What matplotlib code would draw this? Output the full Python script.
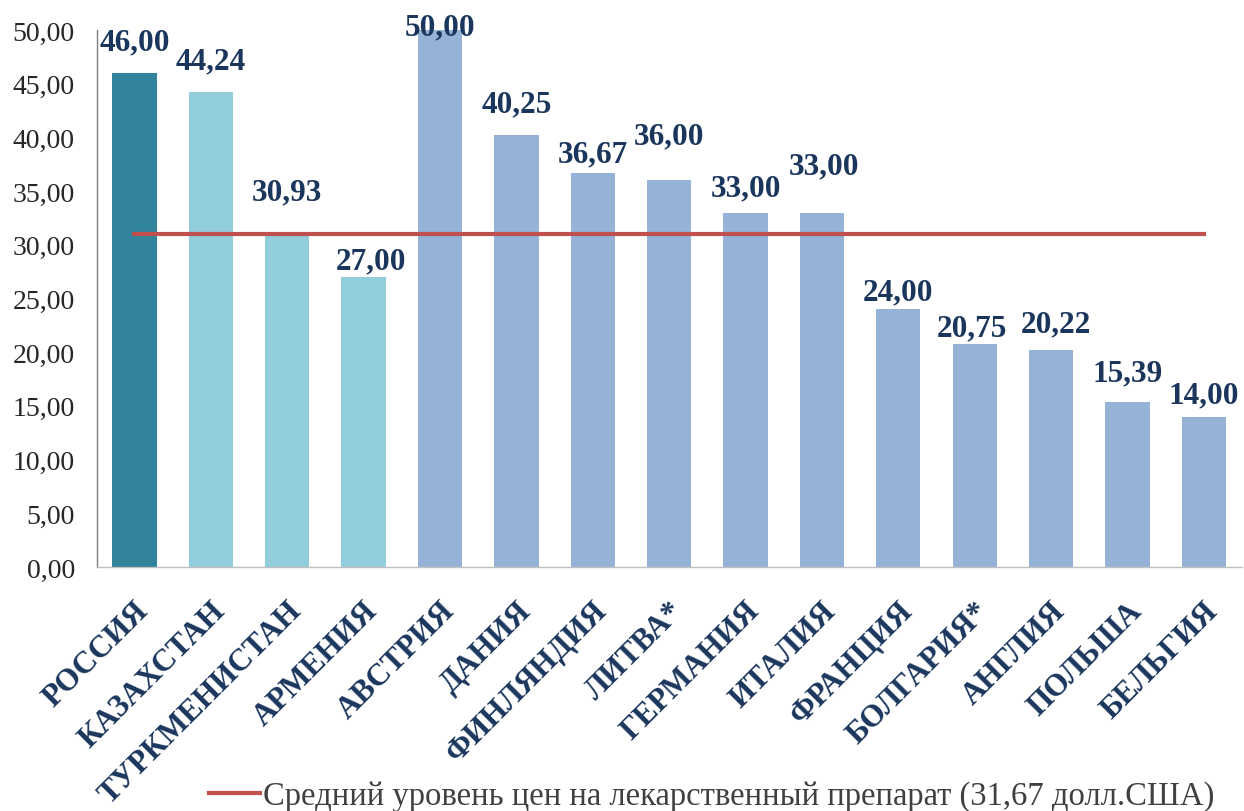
import matplotlib
matplotlib.use("Agg")
import matplotlib.pyplot as plt
import matplotlib.transforms as mtransforms
from matplotlib.lines import Line2D

# ---- data ----
countries = ["РОССИЯ", "КАЗАХСТАН", "ТУРКМЕНИСТАН", "АРМЕНИЯ", "АВСТРИЯ",
             "ДАНИЯ", "ФИНЛЯНДИЯ", "ЛИТВА*", "ГЕРМАНИЯ", "ИТАЛИЯ",
             "ФРАНЦИЯ", "БОЛГАРИЯ*", "АНГЛИЯ", "ПОЛЬША", "БЕЛЬГИЯ"]
prices = [46.00, 44.24, 30.93, 27.00, 50.00, 40.25, 36.67, 36.00, 33.00, 33.00,
          24.00, 20.75, 20.22, 15.39, 14.00]
groups = ["russia", "cis", "cis", "cis", "eu", "eu", "eu", "eu", "eu", "eu",
          "eu", "eu", "eu", "eu", "eu"]
avg_line_value = 31.0
legend_label = "Средний уровень цен на лекарственный препарат (31,67 долл.США)"
y_ticks = [0, 5, 10, 15, 20, 25, 30, 35, 40, 45, 50]

# ---- style ----
group_colors = {"russia": "#31849B", "cis": "#92CDDC", "eu": "#95B3D7"}
navy = "#1B365D"
# manual data-label placement (as in the original chart), in data units
label_dy = [2.9, 2.86, 3.97, 1.5, 0.3, 2.85, 1.83, 4.1, 2.3, 4.3, 1.6, 1.55, 2.38, 2.71, 2.0]
label_dx = [0, 0, 0, 0.1, 0, 0, 0, 0, 0, 0.03, 0, -0.04, 0.07, 0, 0]

plt.rcParams["font.family"] = ["Liberation Serif", "DejaVu Serif"]

fig = plt.figure(figsize=(12.44, 8.12), dpi=100)
ax = fig.add_axes([97 / 1244, 1 - 568 / 812, (1242 - 97) / 1244, (568 - 31) / 812])

x = list(range(len(countries)))
ax.bar(x, prices, width=0.58, color=[group_colors[g] for g in groups], zorder=2)
line, = ax.plot(x, [avg_line_value] * len(x), color="#C0504D", lw=3, zorder=3)

for i, v in enumerate(prices):
    ax.text(i + label_dx[i], v + label_dy[i], f"{v:.2f}".replace(".", ","),
            ha="center", va="center", fontsize=22.5, fontweight="bold",
            color=navy, zorder=4, clip_on=False)

ax.set_xlim(-0.49, len(x) - 0.5)
ax.set_ylim(0, 50)
ax.set_yticks(y_ticks)
ax.set_yticklabels([f"{t:.2f}".replace(".", ",") for t in y_ticks],
                   fontsize=20, color="#262626")
ax.tick_params(axis="y", length=0, pad=16)

ax.set_xticks(x)
ax.set_xticklabels(countries, rotation=45, ha="right", va="center",
                   rotation_mode="anchor", fontsize=22.5, fontweight="bold", color=navy)
ax.tick_params(axis="x", length=0, pad=28)
offset = mtransforms.ScaledTranslation(10 / 100, 0, fig.dpi_scale_trans)
for lab in ax.get_xticklabels():
    lab.set_transform(lab.get_transform() + offset)

for s in ["top", "right"]:
    ax.spines[s].set_visible(False)
ax.spines["left"].set_color("#7F7F7F")
ax.spines["left"].set_linewidth(1.0)
ax.spines["bottom"].set_color("#BFBFBF")
ax.spines["bottom"].set_linewidth(1.0)

handle = Line2D([0], [0], color="#C0504D", lw=3)
fig.legend([handle], [legend_label], loc="center left",
           bbox_to_anchor=(209 / 1244, 1 - 797 / 812), frameon=False,
           fontsize=23.5, handlelength=1.55, handletextpad=0.1,
           borderpad=0, borderaxespad=0, labelcolor="#404040")

fig.savefig("out.png", dpi=100)
